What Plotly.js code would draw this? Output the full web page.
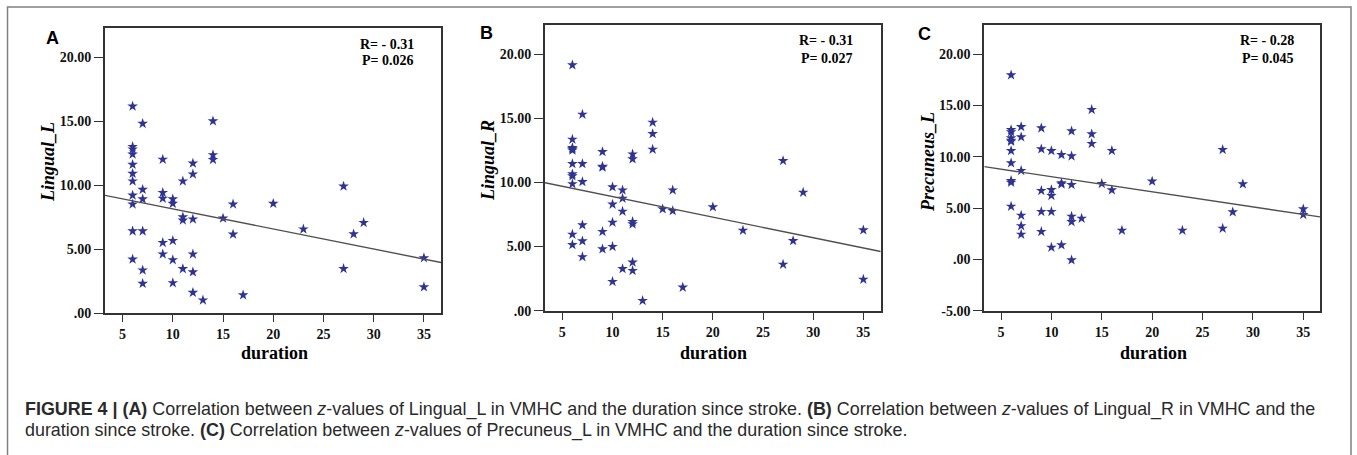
<!DOCTYPE html>
<html>
<head>
<meta charset="utf-8">
<script src="https://cdn.plot.ly/plotly-3.0.1.min.js"></script>
<style>
html,body{margin:0;padding:0;background:#fff;}
#chart{width:1357px;height:455px;}
</style>
</head>
<body>
<div id="chart"></div>
<script>
// ---- data ----
const duration = [6,6,6,6,6,6,6,6,6,6,6, 7,7,7,7,7,7, 9,9,9,9,9, 10,10,10,10,10, 11,11,11,11, 12,12,12,12,12,12, 13, 14,14,14, 15, 16,16, 17, 20, 23, 27,27, 28, 29, 35,35];

const lingualL = [16.15,13.0,12.8,12.4,11.6,10.9,10.3,9.2,8.5,6.4,4.2, 14.8,9.65,8.9,6.4,3.35,2.3, 12.0,9.4,8.95,5.5,4.6, 8.9,8.55,5.65,4.15,2.35, 10.3,7.5,7.25,3.45, 11.7,10.85,7.33,4.6,3.2,1.6, 1.0, 15.0,12.35,11.98, 7.4, 8.5,6.15, 1.4, 8.55, 6.55, 9.9,3.46, 6.17, 7.06, 4.3,2.03];

const lingualR = [19.15,13.35,12.7,12.6,12.5,11.45,10.65,10.5,9.88,5.95,5.14, 15.3,11.45,10.05,6.68,5.43,4.19, 12.39,11.25,11.18,6.16,4.81, 9.64,8.29,6.88,4.99,2.26, 9.4,8.75,7.74,3.27, 12.2,11.82,6.94,6.75,3.77,3.12, 0.78, 14.68,13.79,12.57, 7.92, 9.4,7.79, 1.82, 8.08, 6.26, 11.69,3.61, 5.45, 9.22, 6.29,2.44];

const precuneusL = [17.97,12.64,12.42,11.83,11.6,11.5,10.59,9.39,7.67,7.5,5.17, 12.93,11.93,8.65,4.29,3.26,2.44, 12.8,10.76,6.7,4.65,2.7, 10.59,6.79,6.21,4.65,1.17, 10.2,7.44,7.33,1.4, 12.51,10.07,7.28,4.19,3.67,-0.06, 4.0, 14.6,12.22,11.28, 7.38, 10.6,6.76, 2.83, 7.61, 2.83, 10.7,3.02, 4.62, 7.35, 4.91,4.36];

const panelLetters = ["A", "B", "C"];
const yTitles = ["Lingual_L", "Lingual_R", "Precuneus_L"];
const statR = ["R= - 0.31", "R= - 0.31", "R= - 0.28"];
const statP = ["P= 0.026", "P= 0.027", "P= 0.045"];
const xTickVals = [5, 10, 15, 20, 25, 30, 35];
const yTickValsAB = [0, 5, 10, 15, 20];
const yTickTextAB = [".00", "5.00", "10.00", "15.00", "20.00"];
const yTickValsC = [-5, 0, 5, 10, 15, 20];
const yTickTextC = ["-5.00", ".00", "5.00", "10.00", "15.00", "20.00"];

// ---- layout helpers ----
const W = 1357, H = 455;
const px = v => v / W;
const py = v => 1 - v / H;

const panels = [
  {y: lingualL, xr: [3.25, 36.7], yr: [0, 22.27], box: [105, 441, 28, 313], tv: yTickValsAB, tt: yTickTextAB,
   letter: [52, 37.5], rp: [416, 44.3, 61], xt: [274, 353], yt: [48, 162]},
  {y: lingualR, xr: [3.27, 36.73], yr: [0, 22.27], box: [545, 880.7, 25, 310.7], tv: yTickValsAB, tt: yTickTextAB,
   letter: [486.5, 33.5], rp: [855, 40.7, 58.3], xt: [713, 353], yt: [488, 161]},
  {y: precuneusL, xr: [3.34, 36.66], yr: [-5, 22.85], box: [984.3, 1320, 25, 310.7], tv: yTickValsC, tt: yTickTextC,
   letter: [924.5, 34], rp: [1296, 40.7, 58.3], xt: [1153, 353], yt: [928, 162]}
];

function fit(x, y) {
  const n = x.length;
  let sx = 0, sy = 0, sxx = 0, sxy = 0;
  for (let i = 0; i < n; i++) { sx += x[i]; sy += y[i]; sxx += x[i]*x[i]; sxy += x[i]*y[i]; }
  const b = (sxy - sx*sy/n) / (sxx - sx*sx/n);
  const a = sy/n - b*sx/n;
  return [a, b];
}

const serif = "Liberation Serif, Times New Roman, serif";
const sans = "Liberation Sans, Arial, sans-serif";
const starColor = "#2f3391";

const data = [];
const layout = {
  width: W, height: H,
  margin: {l: 0, r: 0, t: 0, b: 0},
  paper_bgcolor: "#fff", plot_bgcolor: "#fff",
  showlegend: false,
  annotations: [],
  shapes: [
    {type: "rect", xref: "paper", yref: "paper", x0: px(7.5), x1: px(1351), y0: -0.05, y1: py(7),
     line: {color: "#808080", width: 1.5}, fillcolor: "rgba(0,0,0,0)"}
  ]
};

panels.forEach((p, i) => {
  const k = i === 0 ? "" : String(i + 1);
  const xa = "x" + k, ya = "y" + k;
  const [a, b] = fit(duration, p.y);
  data.push({
    x: duration, y: p.y, xaxis: xa, yaxis: ya, type: "scatter", mode: "markers",
    marker: {symbol: "star", size: 8, color: starColor, line: {width: 0}},
    hoverinfo: "x+y", cliponaxis: false
  });
  data.push({
    x: [p.xr[0], p.xr[1]], y: [a + b*p.xr[0], a + b*p.xr[1]], xaxis: xa, yaxis: ya,
    type: "scatter", mode: "lines", line: {color: "#505050", width: 1.4}, hoverinfo: "skip"
  });
  const tickFont = {family: serif, size: 14, color: "#111", weight: "bold"};
  layout["xaxis" + k] = {
    domain: [px(p.box[0]), px(p.box[1])], anchor: ya, range: p.xr,
    tickmode: "array", tickvals: xTickVals, ticks: "outside", ticklen: 7, tickwidth: 1.3, tickcolor: "#333",
    showline: true, linecolor: "#333", linewidth: 2, mirror: true, showgrid: false, zeroline: false,
    tickfont: tickFont, fixedrange: true
  };
  layout["yaxis" + k] = {
    domain: [py(p.box[3]), py(p.box[2])], anchor: xa, range: p.yr,
    tickmode: "array", tickvals: p.tv, ticktext: p.tt, ticks: "outside", ticklen: 9, tickwidth: 1.3, tickcolor: "#333",
    showline: true, linecolor: "#333", linewidth: 2, mirror: true, showgrid: false, zeroline: false,
    tickfont: tickFont, fixedrange: true
  };
  const ann = layout.annotations;
  ann.push({xref: "paper", yref: "paper", x: px(p.letter[0]), y: py(p.letter[1]), text: "<b>" + panelLetters[i] + "</b>",
            showarrow: false, xanchor: "center", yanchor: "middle", font: {family: sans, size: 18, color: "#000"}});
  ann.push({xref: "paper", yref: "paper", x: px(p.rp[0]), y: py(p.rp[1]), text: "<b>" + statR[i] + "</b>",
            showarrow: false, xanchor: "right", yanchor: "middle", font: {family: serif, size: 14, color: "#000"}});
  ann.push({xref: "paper", yref: "paper", x: px(p.rp[0]), y: py(p.rp[2]), text: "<b>" + statP[i] + "</b>",
            showarrow: false, xanchor: "right", yanchor: "middle", font: {family: serif, size: 14, color: "#000"}});
  ann.push({xref: "paper", yref: "paper", x: px(p.xt[0]), y: py(p.xt[1]), text: "<b>duration</b>",
            showarrow: false, xanchor: "center", yanchor: "middle", font: {family: serif, size: 18, color: "#000"}});
  ann.push({xref: "paper", yref: "paper", x: px(p.yt[0]), y: py(p.yt[1]), text: "<b><i>" + yTitles[i] + "</i></b>",
            showarrow: false, xanchor: "center", yanchor: "middle", textangle: -90, font: {family: serif, size: 18, color: "#000"}});
});

// caption
const cap1 = "<b>FIGURE 4 | (A)</b> Correlation between <i>z</i>-values of Lingual_L in VMHC and the duration since stroke. <b>(B)</b> Correlation between <i>z</i>-values of Lingual_R in VMHC and the";
const cap2 = "duration since stroke. <b>(C)</b> Correlation between <i>z</i>-values of Precuneus_L in VMHC and the duration since stroke.";
layout.annotations.push({xref: "paper", yref: "paper", x: px(22.5), y: py(409), text: cap1, showarrow: false,
  xanchor: "left", yanchor: "middle", align: "left", font: {family: sans, size: 17.9, color: "#2a2a2a"}});
layout.annotations.push({xref: "paper", yref: "paper", x: px(22.5), y: py(430), text: cap2, showarrow: false,
  xanchor: "left", yanchor: "middle", align: "left", font: {family: sans, size: 17.9, color: "#2a2a2a"}});

Plotly.newPlot("chart", data, layout, {displayModeBar: false, staticPlot: false});
</script>
</body>
</html>
